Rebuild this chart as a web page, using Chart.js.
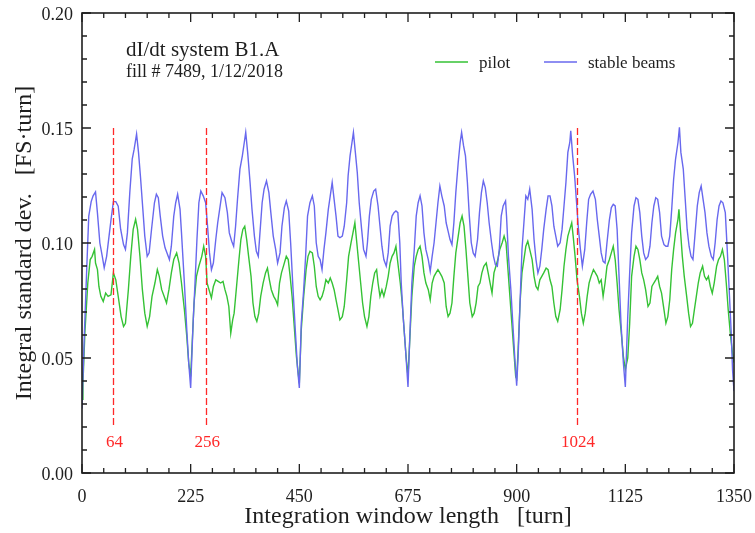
<!DOCTYPE html>
<html>
<head>
<meta charset="utf-8">
<script src="https://cdn.jsdelivr.net/npm/chart.js@4.4.1/dist/chart.umd.min.js"></script>
<style>
  html, body { margin: 0; padding: 0; background: #fff; }
</style>
</head>
<body>
<canvas id="chart" width="755" height="533"></canvas>
<script>
// Integral standard deviation vs integration window length, dI/dt system B1.A

const FONT = "'Liberation Serif', 'Times New Roman', serif";
const GREEN = '#35c235';
const BLUE  = '#6868ee';
const RED   = '#ff2828';
const INK   = '#1e1e1e';

const xTicks = [0, 225, 450, 675, 900, 1125, 1350];
const yTicks = [0, 0.05, 0.10, 0.15, 0.20];
const markerTurns = [64, 256, 1024];

const pilotTurns = [
  0, 2, 6, 12, 17, 21, 26, 28, 32, 35, 39, 44, 49, 54, 60, 65, 70, 75, 81, 86, 90, 96, 101, 106, 111, 115,
  120, 125, 130, 135, 140, 145, 151, 156, 160, 165, 170, 175, 180, 185, 190, 196, 201, 206, 212, 217, 221, 225,
  232, 237, 242, 248, 252, 256, 259, 263, 268, 272, 277, 282, 287, 292, 296, 300, 304, 308, 312, 315, 320, 325,
  329, 333, 337, 341, 345, 350, 354, 358, 362, 366, 370, 375, 380, 384, 388, 392, 397, 401, 405, 409, 413, 418,
  423, 427, 431, 435, 439, 444, 450,
  454, 459, 464, 468, 472, 477, 481, 485, 489, 493, 497, 501, 505, 510, 514, 518, 522, 526, 530, 534, 539, 543,
  548, 552, 557, 561, 565, 569, 573, 577, 581, 585, 590, 594, 598, 602, 606, 610, 613, 617, 621, 625, 630, 634,
  638, 642, 646, 650, 654, 659, 663, 667, 671, 675,
  679, 683, 688, 692, 696, 700, 704, 708, 712, 717, 721, 725, 729, 733, 737, 741, 745, 750, 754, 758, 762, 766,
  770, 774, 779, 783, 787, 791, 795, 799, 803, 808, 812, 816, 820, 824, 828, 832, 837, 841, 845, 849, 853, 857,
  861, 865, 870, 874, 878, 882, 886, 890, 894, 898, 900,
  903, 907, 911, 915, 919, 923, 927, 932, 936, 940, 944, 948, 952, 956, 961, 965, 969, 973, 977, 981, 985, 990,
  994, 998, 1002, 1006, 1010, 1014, 1017, 1021, 1025, 1030, 1034, 1038, 1042, 1046, 1050, 1054, 1059, 1063,
  1067, 1071, 1075, 1079, 1083, 1087, 1092, 1096, 1100, 1104, 1108, 1112, 1116, 1121, 1125,
  1130, 1134, 1138, 1143, 1147, 1151, 1155, 1159, 1163, 1167, 1172, 1176, 1180, 1184, 1188, 1192, 1196, 1200,
  1205, 1209, 1213, 1217, 1221, 1225, 1229, 1234, 1236, 1239, 1243, 1247, 1252, 1256, 1260, 1264, 1268, 1272,
  1276, 1280, 1285, 1289, 1293, 1297, 1301, 1305, 1309, 1314, 1318, 1322, 1326, 1330, 1334, 1338, 1343, 1347, 1350
];
const pilotValues = [
  0.032, 0.039, 0.061, 0.0826, 0.0928, 0.0942, 0.0972, 0.0913, 0.0884, 0.0811, 0.0768, 0.0746, 0.0782, 0.0768,
  0.0775, 0.087, 0.084, 0.0768, 0.068, 0.0637, 0.0651, 0.0797, 0.0942, 0.1059, 0.1103, 0.1059,
  0.0942, 0.0797, 0.0695, 0.0637, 0.068, 0.0768, 0.0826, 0.0884, 0.0855, 0.0797, 0.0768, 0.0739, 0.0797, 0.087,
  0.0928, 0.0957, 0.0913, 0.0826, 0.071, 0.0593, 0.0477, 0.042,
  0.0739, 0.0855, 0.0899, 0.0942, 0.0986, 0.0942, 0.0826, 0.0797, 0.0761, 0.0811, 0.084, 0.0833, 0.0826, 0.0833,
  0.0797, 0.0768, 0.0724, 0.0608, 0.0666, 0.0695, 0.0811, 0.0928,
  0.1015, 0.1059, 0.1073, 0.1015, 0.0942, 0.0855, 0.0739, 0.068, 0.0659, 0.0695, 0.0768, 0.0826, 0.087, 0.0891,
  0.084, 0.0797, 0.0768, 0.0753, 0.0731, 0.0826, 0.087, 0.0906,
  0.0942, 0.0928, 0.0855, 0.0768, 0.0651, 0.0506, 0.039,
  0.0622, 0.0768, 0.0884, 0.0942, 0.0964, 0.0957, 0.0899, 0.0811, 0.0768, 0.0753, 0.0768, 0.0797, 0.084, 0.0826,
  0.0848, 0.0826, 0.0797, 0.0753, 0.071, 0.0666, 0.068, 0.0724,
  0.084, 0.0942, 0.1001, 0.1044, 0.1088, 0.1001, 0.0913, 0.0826, 0.0739, 0.068, 0.0637, 0.068, 0.0768, 0.0826,
  0.087, 0.0884, 0.0826, 0.0768, 0.0797, 0.0768, 0.0811, 0.0855,
  0.0913, 0.0942, 0.0957, 0.0986, 0.0913, 0.0826, 0.0739, 0.0622, 0.0506, 0.042,
  0.0593, 0.0768, 0.0899, 0.0942, 0.0972, 0.0986, 0.0942, 0.087, 0.0826, 0.0797, 0.0753, 0.0826, 0.0855, 0.087,
  0.0884, 0.087, 0.0855, 0.0826, 0.0724, 0.068, 0.0695, 0.0739,
  0.0855, 0.0957, 0.103, 0.1088, 0.1117, 0.1073, 0.0972, 0.0855, 0.0739, 0.068, 0.0695, 0.0739, 0.0811, 0.0826,
  0.087, 0.0899, 0.0913, 0.087, 0.0826, 0.0782, 0.087, 0.0899,
  0.0928, 0.0972, 0.1001, 0.103, 0.1001, 0.0884, 0.0768, 0.0651, 0.0535, 0.0418, 0.041,
  0.0535, 0.0739, 0.087, 0.0928, 0.0986, 0.1008, 0.0972, 0.0928, 0.0855, 0.0811, 0.0797, 0.084, 0.0855, 0.087,
  0.0891, 0.0884, 0.084, 0.0811, 0.0739, 0.068, 0.0659, 0.071,
  0.0797, 0.0899, 0.0972, 0.103, 0.1059, 0.1088, 0.103, 0.0942, 0.084, 0.0768, 0.0695, 0.0651, 0.0695, 0.0768,
  0.0826, 0.0855, 0.0884, 0.087,
  0.0855, 0.0826, 0.084, 0.0768, 0.0826, 0.0899, 0.0928, 0.0957, 0.0986, 0.0928, 0.0826, 0.071, 0.0622, 0.0506, 0.045,
  0.05, 0.0651, 0.0855, 0.0942, 0.0986, 0.0972, 0.0928, 0.087, 0.084, 0.0797, 0.0724, 0.0739, 0.0811, 0.0826,
  0.084, 0.0855, 0.0811, 0.0782,
  0.071, 0.0651, 0.068, 0.0753, 0.0884, 0.0972, 0.1044, 0.1103, 0.1146, 0.1059, 0.0942, 0.0855, 0.0768, 0.0695,
  0.0637, 0.0651, 0.071, 0.0768,
  0.0826, 0.087, 0.0899, 0.0855, 0.084, 0.0855, 0.0811, 0.0782, 0.0826, 0.0899, 0.0928, 0.0942, 0.0972, 0.0928,
  0.0826, 0.071, 0.0593, 0.052, 0.048
];

const stableTurns = [
  0, 5, 10, 14, 19, 23, 28, 32, 37, 42, 46, 51, 56, 60, 65, 70, 75, 80, 86, 90, 94, 99, 104, 108, 113, 117, 121,
  126, 130, 135, 139, 144, 150, 154, 158, 162, 167, 172, 176, 181, 185, 190, 194, 198, 203, 206, 212, 217, 221, 225,
  230, 234, 238, 242, 246, 251, 256, 260, 264, 268, 272, 277, 281, 285, 290, 296, 301, 305, 310, 314, 318, 322,
  327, 332, 336, 339, 343, 348, 352, 357, 361, 365, 368, 373, 377, 382, 387, 391, 396, 401, 405, 410, 414, 419,
  423, 428, 432, 437, 442, 446, 450,
  454, 459, 463, 467, 472, 477, 481, 485, 489, 493, 497, 501, 505, 510, 514, 518, 522, 526, 530, 534, 539, 543,
  548, 551, 555, 559, 562, 566, 570, 574, 579, 583, 588, 591, 595, 599, 604, 608, 613, 617, 621, 625, 630, 634,
  638, 642, 646, 650, 654, 658, 661, 665, 670, 675,
  679, 683, 688, 692, 696, 700, 704, 708, 712, 717, 721, 725, 729, 733, 737, 741, 745, 750, 754, 758, 762, 766,
  770, 774, 779, 783, 786, 790, 794, 798, 802, 806, 810, 814, 819, 823, 827, 831, 835, 839, 843, 848, 852, 856,
  860, 864, 868, 872, 877, 879, 883, 888, 892, 896, 900,
  903, 907, 911, 915, 919, 923, 927, 932, 936, 940, 944, 948, 952, 956, 961, 965, 969, 973, 977, 981, 985, 990,
  994, 998, 1002, 1006, 1010, 1012, 1016, 1020, 1024, 1028, 1032, 1036, 1041, 1045, 1049, 1053, 1058, 1063,
  1067, 1071, 1075, 1079, 1083, 1087, 1092, 1096, 1100, 1104, 1108, 1112, 1116, 1121, 1125,
  1130, 1134, 1138, 1143, 1147, 1151, 1155, 1159, 1163, 1167, 1172, 1176, 1180, 1184, 1188, 1192, 1196, 1200,
  1205, 1209, 1213, 1217, 1221, 1225, 1229, 1234, 1237, 1240, 1245, 1249, 1253, 1257, 1261, 1265, 1269, 1274,
  1278, 1282, 1286, 1290, 1294, 1298, 1303, 1307, 1311, 1315, 1319, 1323, 1327, 1332, 1336, 1340, 1344, 1347, 1350
];
const stableValues = [
  0.028, 0.061, 0.09, 0.1117, 0.118, 0.1205, 0.1222, 0.113, 0.1, 0.0942, 0.0892, 0.0942, 0.103, 0.11, 0.118,
  0.118, 0.116, 0.106, 0.0993, 0.0972, 0.1044, 0.122, 0.1365, 0.1408, 0.1474, 0.1394, 0.129,
  0.1146, 0.103, 0.0942, 0.0957, 0.106, 0.1175, 0.1212, 0.1197, 0.1117, 0.103, 0.0979, 0.0957, 0.0928, 0.0986,
  0.1117, 0.1175, 0.1212, 0.1146, 0.1044, 0.0826, 0.0622, 0.0477, 0.037,
  0.065, 0.0826, 0.1015, 0.1175, 0.1226, 0.1205, 0.1175, 0.1073, 0.0957, 0.0884, 0.0913, 0.1015, 0.1088, 0.1146,
  0.1219, 0.1197, 0.1132, 0.1044, 0.1008, 0.0986, 0.1073, 0.119,
  0.1321, 0.1379, 0.1437, 0.1481, 0.1394, 0.1263, 0.1146, 0.103, 0.0964, 0.0942, 0.103, 0.1175, 0.1234, 0.127,
  0.1219, 0.1132, 0.103, 0.0972, 0.0913, 0.0957, 0.1073, 0.1154,
  0.1183, 0.1139, 0.1001, 0.0797, 0.0608, 0.0462, 0.037,
  0.065, 0.0797, 0.0942, 0.1117, 0.1175, 0.1205, 0.1161, 0.1001, 0.0942, 0.0928, 0.0884, 0.0972, 0.1044, 0.1146,
  0.1205, 0.1263, 0.119, 0.1117, 0.103, 0.1023, 0.103, 0.1073,
  0.1175, 0.1292, 0.1379, 0.1437, 0.1481, 0.1394, 0.1306, 0.1175, 0.1059, 0.0972, 0.0942, 0.1001, 0.1117, 0.119,
  0.1226, 0.1234, 0.1161, 0.1073, 0.0986, 0.0928, 0.0899, 0.0957,
  0.1073, 0.1117, 0.1132, 0.1139, 0.1132, 0.1001, 0.0826, 0.068, 0.0535, 0.0374,
  0.0608, 0.0826, 0.0972, 0.1117, 0.1175, 0.1205, 0.1161, 0.1044, 0.0972, 0.0928, 0.0877, 0.0942, 0.1001, 0.1088,
  0.1175, 0.1248, 0.1205, 0.1161, 0.1088, 0.1052, 0.1015, 0.0993,
  0.1088, 0.1219, 0.135, 0.1437, 0.1481, 0.1423, 0.1379, 0.1263, 0.1117, 0.1001, 0.0957, 0.0942, 0.1015, 0.1132,
  0.1219, 0.127, 0.1241, 0.1175, 0.1088, 0.1001, 0.0942, 0.0906,
  0.0899, 0.0972, 0.1117, 0.1161, 0.1183, 0.1117, 0.0942, 0.0797, 0.0651, 0.0506, 0.038,
  0.0506, 0.0739, 0.0972, 0.1088, 0.1205, 0.119, 0.1234, 0.1146, 0.1015, 0.0928, 0.087, 0.0899, 0.0972, 0.1059,
  0.1146, 0.1205, 0.1205, 0.1161, 0.1073, 0.103, 0.0986, 0.1001,
  0.1059, 0.1161, 0.1263, 0.1394, 0.1437, 0.1488, 0.1379, 0.1292, 0.1175, 0.1059, 0.0972, 0.0899, 0.0972, 0.1088,
  0.119, 0.1212, 0.1226, 0.119,
  0.1101, 0.103, 0.0957, 0.092, 0.0913, 0.1001, 0.1101, 0.1154, 0.1168, 0.1161, 0.1059, 0.0855, 0.0651, 0.0477, 0.0374,
  0.068, 0.087, 0.1044, 0.1161, 0.1197, 0.119, 0.1132, 0.103, 0.0957, 0.0928, 0.0942, 0.0986, 0.1088, 0.1161,
  0.1197, 0.119, 0.1132, 0.103,
  0.0993, 0.0986, 0.0986, 0.103, 0.1146, 0.1277, 0.1365, 0.1437, 0.1503, 0.1394, 0.1321, 0.119, 0.1059, 0.0986,
  0.0942, 0.0928, 0.103, 0.1161,
  0.1219, 0.1248, 0.119, 0.1132, 0.1044, 0.0986, 0.0942, 0.0928, 0.1001, 0.1101, 0.1161, 0.1183, 0.1175, 0.1132,
  0.0972, 0.0797, 0.0622, 0.0448, 0.0356
];

function toPoints(xs, ys) {
  return xs.map((x, i) => ({ x: x, y: ys[i] }));
}

// frame, inward ticks (major + minor), annotations and legend
const decorPlugin = {
  id: 'decor',
  afterDatasetsDraw(chart) {
    const { ctx, chartArea: a, scales: { x, y } } = chart;
    ctx.save();

    // red dashed markers
    ctx.strokeStyle = RED;
    ctx.lineWidth = 1.3;
    ctx.setLineDash([7, 3]);
    markerTurns.forEach(t => {
      const px = Math.round(x.getPixelForValue(t)) + 0.5;
      ctx.beginPath();
      ctx.moveTo(px, y.getPixelForValue(0.15));
      ctx.lineTo(px, y.getPixelForValue(0.02));
      ctx.stroke();
    });
    ctx.setLineDash([]);
    ctx.fillStyle = RED;
    ctx.font = '17px ' + FONT;
    ctx.textAlign = 'center';
    ctx.textBaseline = 'alphabetic';
    markerTurns.forEach(t => {
      ctx.fillText(String(t), x.getPixelForValue(t) + 1.5, y.getPixelForValue(0.02) + 20);
    });

    // frame
    ctx.strokeStyle = INK;
    ctx.lineWidth = 1.6;
    ctx.strokeRect(a.left, a.top, a.right - a.left, a.bottom - a.top);

    // x ticks every 45 turns, major every 225
    ctx.lineWidth = 1.3;
    ctx.beginPath();
    for (let t = 0; t <= 1350; t += 45) {
      const px = x.getPixelForValue(t);
      const len = t % 225 === 0 ? 9 : 5;
      ctx.moveTo(px, a.bottom); ctx.lineTo(px, a.bottom - len);
      ctx.moveTo(px, a.top);    ctx.lineTo(px, a.top + len);
    }
    // y ticks every 0.01, major every 0.05
    for (let i = 0; i <= 20; i++) {
      const py = y.getPixelForValue(i / 100);
      const len = i % 5 === 0 ? 9 : 5;
      ctx.moveTo(a.left, py);  ctx.lineTo(a.left + len, py);
      ctx.moveTo(a.right, py); ctx.lineTo(a.right - len, py);
    }
    ctx.stroke();

    // annotation
    ctx.fillStyle = INK;
    ctx.textAlign = 'left';
    ctx.font = '21px ' + FONT;
    ctx.fillText('dI/dt system B1.A', 126, 56);
    ctx.font = '18px ' + FONT;
    ctx.fillText('fill # 7489, 1/12/2018', 126, 77);

    // legend
    ctx.font = '17px ' + FONT;
    ctx.lineWidth = 1.3;
    ctx.strokeStyle = GREEN;
    ctx.beginPath(); ctx.moveTo(435, 62); ctx.lineTo(468, 62); ctx.stroke();
    ctx.fillText('pilot', 479, 68);
    ctx.strokeStyle = BLUE;
    ctx.beginPath(); ctx.moveTo(544, 62); ctx.lineTo(577, 62); ctx.stroke();
    ctx.fillText('stable beams', 588, 68);

    ctx.restore();
  }
};

const ctx = document.getElementById('chart').getContext('2d');
new Chart(ctx, {
  type: 'line',
  data: {
    datasets: [
      {
        label: 'pilot',
        data: toPoints(pilotTurns, pilotValues),
        borderColor: GREEN,
        borderWidth: 1.4,
        pointRadius: 0,
        tension: 0,
        order: 1,
      },
      {
        label: 'stable beams',
        data: toPoints(stableTurns, stableValues),
        borderColor: BLUE,
        borderWidth: 1.4,
        pointRadius: 0,
        tension: 0,
        order: 0,
      }
    ]
  },
  options: {
    responsive: false,
    animation: false,
    devicePixelRatio: 1,
    layout: { padding: { top: 13, right: 21, bottom: 0, left: 0 } },
    plugins: { legend: { display: false }, tooltip: { enabled: false } },
    scales: {
      x: {
        type: 'linear',
        min: 0,
        max: 1350,
        afterBuildTicks(scale) { scale.ticks = xTicks.map(v => ({ value: v })); },
        afterFit(scale) {
          scale.height = 60;
          scale.paddingLeft = 0;
          scale.paddingRight = 0;
        },
        ticks: {
          font: { family: FONT, size: 18 },
          color: INK,
          padding: 13,
          maxRotation: 0,
          autoSkip: false,
          callback: v => String(v),
        },
        grid: { display: false, drawTicks: false },
        border: { display: false },
        title: {
          display: true,
          text: 'Integration window length   [turn]',
          font: { family: FONT, size: 24 },
          color: INK,
          padding: { top: 0, bottom: 2 },
        },
      },
      y: {
        min: 0,
        max: 0.2,
        afterBuildTicks(scale) { scale.ticks = yTicks.map(v => ({ value: v })); },
        afterFit(scale) {
          scale.width = 82;
          scale.paddingTop = 0;
          scale.paddingBottom = 0;
        },
        ticks: {
          font: { family: FONT, size: 18 },
          color: INK,
          padding: 9,
          labelOffset: 2,
          callback: v => v.toFixed(2),
        },
        grid: { display: false, drawTicks: false },
        border: { display: false },
        title: {
          display: true,
          text: 'Integral standard dev.   [FS\u00b7turn]',
          font: { family: FONT, size: 24 },
          color: INK,
          padding: { top: 10, bottom: 0 },
        },
      }
    }
  },
  plugins: [decorPlugin]
});
</script>
</body>
</html>
